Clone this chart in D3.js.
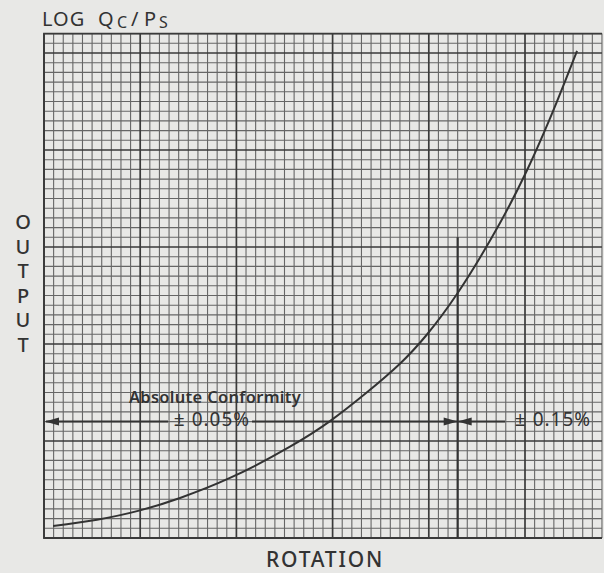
<!DOCTYPE html>
<html>
<head>
<meta charset="utf-8">
<script src="https://cdn.jsdelivr.net/npm/d3@7"></script>
<style>
	body { margin: 0; background: #e8e8e6; }
	svg { display: block; }
	text { font-family: "Noto Sans", Lato, sans-serif; fill: #333; }
</style>
</head>
<body>
<div id="chart"></div>
<script>

// curve, in minor grid divisions
const rotation = [0.94, 5.51, 9.88, 14.14, 19.33, 25.57, 29.73, 37.0, 39.81, 42.93, 47.4, 50.21, 52.6, 55.41];
const output = [1.24, 1.88, 2.82, 4.13, 6.19, 9.41, 12.05, 17.97, 20.98, 25.15, 32.47, 37.91, 43.25, 50.21];

// conformity bands
const dividerAt = 43;      // rotation where the band changes
const dividerTop = 31;
const arrowLevel = 12;
const bandLabels = ["\u00b1 0.05%", "\u00b1 0.15%"];

const yLetters = ["O", "U", "T", "P", "U", "T"];

function chart(){

	const width = 604;
	const height = 573;

	//grid size (minor divisions)
	const xMax = 58, yMax = 52;

	let svg = d3.select("#chart")
		.append("svg")
		.attr("width", width)
		.attr("height", height);

	let x = d3.scaleLinear().domain([0, xMax]).range([44, 44 + xMax * 9.62]);
	let y = d3.scaleLinear().domain([0, yMax]).range([538, 538 - yMax * 9.7]);

	let grid = svg.append("g");

	//minor lines
	grid.selectAll(".vx")
		.data(x.ticks(xMax).filter((d)=>{return d % 10 != 0;}))
		.enter().append("line")
		.attr("x1", (d)=>{return x(d);})
		.attr("x2", (d)=>{return x(d);})
		.attr("y1", y(0))
		.attr("y2", y(yMax))
		.attr("stroke", "#666")
		.attr("stroke-width", 1.1);

	grid.selectAll(".hy")
		.data(y.ticks(yMax).filter((d)=>{return d % 10 != 0;}))
		.enter().append("line")
		.attr("x1", x(0))
		.attr("x2", x(xMax))
		.attr("y1", (d)=>{return y(d);})
		.attr("y2", (d)=>{return y(d);})
		.attr("stroke", "#666")
		.attr("stroke-width", 1.1);

	//major lines
	grid.selectAll(".vmaj")
		.data(d3.range(0, xMax + 1, 10))
		.enter().append("line")
		.attr("x1", (d)=>{return x(d);})
		.attr("x2", (d)=>{return x(d);})
		.attr("y1", y(0))
		.attr("y2", y(yMax))
		.attr("stroke", "#3a3a3a")
		.attr("stroke-width", 1.7);

	grid.selectAll(".hmaj")
		.data(d3.range(0, yMax + 1, 10))
		.enter().append("line")
		.attr("x1", x(0))
		.attr("x2", x(xMax))
		.attr("y1", (d)=>{return y(d);})
		.attr("y2", (d)=>{return y(d);})
		.attr("stroke", "#3a3a3a")
		.attr("stroke-width", 1.7);

	//border
	grid.append("path")
		.attr("d", "M" + x(xMax) + "," + y(yMax) + "H" + x(0) + "V" + y(0) + "H" + x(xMax))
		.attr("fill", "none")
		.attr("stroke", "#3a3a3a")
		.attr("stroke-width", 1.8);

	//divider
	svg.append("line")
		.attr("x1", x(dividerAt))
		.attr("x2", x(dividerAt))
		.attr("y1", y(0))
		.attr("y2", y(dividerTop))
		.attr("stroke", "#333")
		.attr("stroke-width", 2.2);

	//arrows
	const ay = y(arrowLevel);
	let arrows = svg.append("g")
		.attr("stroke", "#333")
		.attr("stroke-width", 2);

	arrows.append("line")
		.attr("x1", x(0) + 2).attr("x2", 168)
		.attr("y1", ay).attr("y2", ay);
	arrows.append("line")
		.attr("x1", 252).attr("x2", x(dividerAt))
		.attr("y1", ay).attr("y2", ay);
	arrows.append("line")
		.attr("x1", x(dividerAt)).attr("x2", 505)
		.attr("y1", ay).attr("y2", ay);

	function head(tip, dir){
		return "M" + tip + "," + ay + "L" + (tip + dir * 14) + "," + (ay - 4) + "L" + (tip + dir * 14) + "," + (ay + 4) + "Z";
	}
	svg.append("path").attr("d", head(x(0) + 1, 1)).attr("fill", "#333");
	svg.append("path").attr("d", head(x(dividerAt), -1)).attr("fill", "#333");
	svg.append("path").attr("d", head(x(dividerAt), 1)).attr("fill", "#333");

	//curve
	let line = d3.line()
		.x((d)=>{return x(d[0]);})
		.y((d)=>{return y(d[1]);})
		.curve(d3.curveCatmullRom.alpha(0.5));

	svg.append("path")
		.datum(d3.zip(rotation, output))
		.attr("d", line)
		.attr("fill", "none")
		.attr("stroke", "#333")
		.attr("stroke-width", 2);

	//labels
	svg.append("text")
		.attr("x", 215)
		.attr("y", 403)
		.attr("text-anchor", "middle")
		.style("font-size", "16.5px")
		.style("font-weight", "600")
		.style("letter-spacing", "0.3px")
		.text("Absolute Conformity");

	svg.append("text")
		.attr("x", 212)
		.attr("y", 426)
		.attr("text-anchor", "middle")
		.style("font-size", "19px")
		.style("letter-spacing", "1px")
		.text(bandLabels[0]);

	svg.append("text")
		.attr("x", 553)
		.attr("y", 426)
		.attr("text-anchor", "middle")
		.style("font-size", "19px")
		.style("letter-spacing", "1px")
		.text(bandLabels[1]);

	//title
	let t = svg.append("text")
		.attr("y", 26)
		.style("font-size", "20px");
	t.append("tspan").attr("x", 42).style("letter-spacing", "1px").text("LOG");
	t.append("tspan").attr("x", 98).text("Q");
	t.append("tspan").attr("x", 117).attr("dy", 2).style("font-size", "16px").text("C");
	t.append("tspan").attr("x", 131).attr("dy", -2).text("/");
	t.append("tspan").attr("x", 144).text("P");
	t.append("tspan").attr("x", 159).attr("dy", 2).style("font-size", "16px").text("S");

	svg.selectAll(".ylet")
		.data(yLetters)
		.enter().append("text")
		.attr("x", 23)
		.attr("y", (d, i)=>{return 229 + i * 24.6;})
		.attr("text-anchor", "middle")
		.style("font-size", "20px")
		.style("font-weight", "500")
		.text((d)=>{return d;});

	svg.append("text")
		.attr("x", 325)
		.attr("y", 567)
		.attr("text-anchor", "middle")
		.style("font-size", "21px")
		.style("font-weight", "500")
		.style("letter-spacing", "1.8px")
		.text("ROTATION");

}

chart();
</script>
</body>
</html>
